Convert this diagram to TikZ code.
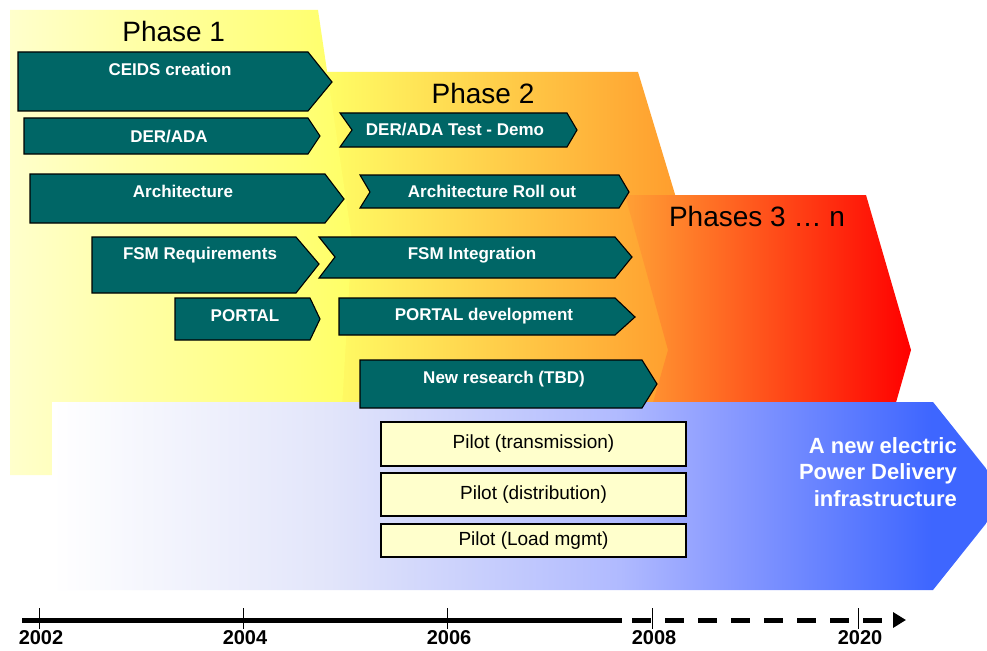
\documentclass[tikz,border=0pt]{standalone}
\usepackage{fontspec}
\setmainfont{Liberation Sans}
\usetikzlibrary{arrows.meta}
\definecolor{teal1}{HTML}{006666}
\definecolor{p1l}{HTML}{FFFFCC}
\definecolor{p1r}{HTML}{FFFF66}
\definecolor{p2l}{HTML}{FFFF66}
\definecolor{p2r}{HTML}{FF9428}
\definecolor{p3l}{HTML}{FFA035}
\definecolor{p3r}{HTML}{FF0000}
\definecolor{bA}{HTML}{E2E5FA}
\definecolor{bB}{HTML}{B0BAFF}
\definecolor{bC}{HTML}{8C9CFF}
\definecolor{bD}{HTML}{3E66FF}
\definecolor{pilotfill}{HTML}{FFFFCC}
\pgfdeclarehorizontalshading{bluegrad}{100bp}{color(0bp)=(white); color(25bp)=(white); color(39.5bp)=(bA); color(54.7bp)=(bB); color(60bp)=(bC); color(71bp)=(bD); color(100bp)=(bD)}
\tikzset{
  tarrow/.style={fill=teal1, draw=black, line width=1.1pt, line join=miter},
  alabel/.style={text=white, font=\fontsize{17}{20}\selectfont\bfseries, inner sep=0pt, text height=12.2pt, text depth=0pt},
  phlabel/.style={text=black, font=\fontsize{28}{32}\selectfont, inner sep=0pt, text height=20pt, text depth=0pt},
  pilot/.style={draw=black, fill=pilotfill, line width=1.1pt, minimum width=305pt, inner sep=0pt, font=\fontsize{19}{22}\selectfont},
  bluetext/.style={text=white, font=\fontsize{22}{26.8}\selectfont\bfseries, align=right, inner sep=0pt},
  yearlabel/.style={font=\fontsize{20}{24}\selectfont\bfseries, inner sep=0pt, text height=14.3pt, text depth=0pt},
  tline/.style={line width=5pt}
}
\begin{document}
\begin{tikzpicture}[x=1pt,y=-1pt]
\useasboundingbox (0,0) rectangle (987,650);
\fill[white] (0,0) rectangle (987,650);
\clip (0,0) rectangle (987,650);
% phase backgrounds
\shade[left color=p2l,right color=p2r] (320,72) -- (638,72) -- (710,310) -- (690,420) -- (320,420) -- cycle;
\shade[left color=p3l,right color=p3r] (625,195) -- (866,195) -- (911,350) -- (891,420) -- (648,420) -- (668,350) -- cycle;
\shade[left color=p1l,right color=p1r] (10,10) -- (318,10) -- (352,240) -- (338,475) -- (10,475) -- cycle;
% goal arrow
\shade[shading=bluegrad] (52,402) -- (933,402) -- (1008,496) -- (933,590) -- (52,590) -- cycle;
% phase labels
\node[phlabel] (ph1) at (173.7,31.7) {Phase 1};
\node[phlabel] (ph2) at (483,93) {Phase 2};
\node[phlabel] (ph3) at (757,216.7) {Phases 3 … n};
% phase 1 arrows
\draw[tarrow] (18,52) -- (308,52) -- (332,82) -- (308,111) -- (18,111) -- cycle;
\node[alabel] (ceids) at (170,69) {CEIDS creation};
\draw[tarrow] (24,118) -- (308,118) -- (320,136) -- (308,154) -- (24,154) -- cycle;
\node[alabel] (der) at (169,136) {DER/ADA};
\draw[tarrow] (30,174) -- (325,174) -- (344,199) -- (325,223) -- (30,223) -- cycle;
\node[alabel] (arch) at (183,191) {Architecture};
\draw[tarrow] (92,237) -- (296,237) -- (319,264) -- (296,293) -- (92,293) -- cycle;
\node[alabel] (fsmreq) at (200,253) {FSM Requirements};
\draw[tarrow] (175,298) -- (310,298) -- (320,319) -- (310,340) -- (175,340) -- cycle;
\node[alabel] (portal) at (245,315) {PORTAL};
% phase 2 arrows
\draw[tarrow] (340,113) -- (567,113) -- (577,130) -- (567,147) -- (340,147) -- (352,130) -- cycle;
\node[alabel] (dertest) at (455,129) {DER/ADA Test - Demo};
\draw[tarrow] (360,175) -- (619,175) -- (629,192) -- (619,208) -- (360,208) -- (370,192) -- cycle;
\node[alabel] (archroll) at (492,191) {Architecture Roll out};
\draw[tarrow] (319,237) -- (615,237) -- (632,257) -- (615,278) -- (319,278) -- (335,257) -- cycle;
\node[alabel] (fsmint) at (472,253) {FSM Integration};
\draw[tarrow] (339,298) -- (615,298) -- (635,317) -- (615,335) -- (339,335) -- cycle;
\node[alabel] (portaldev) at (484,314.5) {PORTAL development};
\draw[tarrow] (360,360) -- (642,360) -- (657,384) -- (642,408) -- (360,408) -- cycle;
\node[alabel] (newres) at (504,377) {New research (TBD)};
% pilots
\node[pilot, minimum height=44pt] (pilotT) at (533.5,444) {Pilot (transmission)};
\node[pilot, minimum height=43pt] (pilotD) at (533.5,494.5) {Pilot (distribution)};
\node[pilot, minimum height=33pt] (pilotL) at (533.5,540.5) {Pilot (Load mgmt)};
% goal text
\node[bluetext, anchor=north east] (goal) at (957,437) {A new electric\\Power Delivery\\infrastructure};
% timeline
\coordinate (tA) at (22,620);
\coordinate (tB) at (622,620);
\coordinate (tC) at (632,620);
\coordinate (tD) at (906,620);
\draw[tline] (tA) -- (tB);
\draw[tline, dash pattern=on 19pt off 14pt, -{Triangle[length=13pt,width=15pt]}] (tC) -- (tD);
\foreach \x/\yr in {39/2002, 243/2004, 447/2006, 652/2008, 858/2020} {
  \draw[line width=1pt] (\x,608) -- (\x,629);
  \node[yearlabel] (y\yr) at (\x+2,637.5) {\yr};
}
\end{tikzpicture}
\end{document}
